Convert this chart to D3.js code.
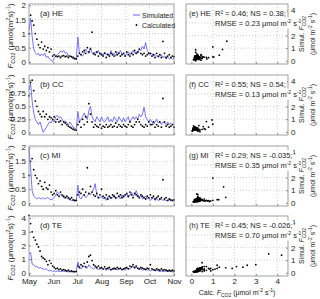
<!DOCTYPE html>
<html><head><meta charset="utf-8">
<script src="https://cdn.jsdelivr.net/npm/d3@7"></script>
<style>body{margin:0;background:#fff}svg text{font-family:"Liberation Sans",Arial,sans-serif;fill:#222}</style>
</head><body><svg id="c" width="320" height="299"></svg>
<script>
const monthLabels = ["May","Jun","Jul","Aug","Sep","Oct","Nov"];
const panelLetters = ["(a) HE","(b) CC","(c) MI","(d) TE"];
const scatterLetters = ["(e) HE","(f) CC","(g) MI","(h) TE"];
const statsLine1 = ["R\u00b2 = 0.46; NS = 0.38;","R\u00b2 = 0.55; NS = 0.54;","R\u00b2 = 0.29; NS = -0.035;","R\u00b2 = 0.45; NS = -0.026;"];
const statsRmse = ["0.23","0.13","0.35","0.70"];
const yTicksHE = [0,0.5,1,1.5,2];
const yTicksCC = [0,0.25,0.5,0.75,1];
const yTicksMI = [0,0.5,1,1.5,2];
const yTicksTE = [0,1,2,3,4];
const scatterTicks = [0,1,2,3,4];
// day index from May 1 (every 2 days)
const days = d3.range(0,185,2);
const simHE = [1.1,1.55,0.9,0.45,0.32,0.25,0.3,0.2,0.28,0.22,0.3,0.15,0.2,0.1,0.05,0.0,0.12,0.2,0.25,0.3,0.38,0.35,0.4,0.3,0.32,0.22,0.2,0.15,0.1,0.08,0.1,0.88,0.3,0.25,0.2,0.3,0.45,0.35,0.3,0.5,0.3,0.25,0.35,0.3,0.4,0.25,0.3,0.2,0.35,0.25,0.3,0.2,0.4,0.25,0.3,0.2,0.35,0.3,0.4,0.25,0.3,0.2,0.3,0.35,0.25,0.3,0.4,0.3,0.35,0.3,0.45,0.4,0.55,0.45,0.68,0.4,0.3,0.25,0.3,0.2,0.25,0.2,0.15,0.2,0.25,0.15,0.2,0.1,0.15,0.1,0.15,0.1,0.12];
const calHE = [1.0,1.65,1.45,1.3,1.0,0.8,0.6,0.5,0.7,0.45,0.55,0.4,0.5,0.35,0.45,0.2,0.25,0.2,0.18,0.2,0.15,0.2,0.22,0.18,0.2,0.15,0.2,0.18,0.15,0.12,0.1,0.2,0.3,0.25,0.35,0.4,0.3,0.5,0.35,0.45,1.05,0.3,0.25,0.35,0.2,0.3,0.25,0.2,0.3,0.15,0.25,0.2,0.3,0.25,0.2,0.35,0.25,0.3,0.2,0.25,0.3,0.2,0.35,0.25,0.2,0.3,0.25,0.4,0.3,0.35,0.45,0.3,0.25,0.3,0.2,0.25,0.3,0.3,0.2,0.25,0.15,0.3,0.2,0.25,0.15,0.72,0.3,0.15,0.2,0.25,0.15,0.2,0.18];
const simCC = [0.81,0.94,0.6,0.37,0.25,0.2,0.15,0.2,0.1,0.0,0.05,0.1,0.15,0.2,0.18,0.25,0.2,0.3,0.33,0.28,0.3,0.25,0.2,0.22,0.18,0.15,0.2,0.15,0.1,0.08,0.07,0.4,0.2,0.25,0.3,0.37,0.3,0.25,0.42,0.5,0.3,0.25,0.2,0.3,0.25,0.2,0.3,0.22,0.2,0.25,0.3,0.2,0.25,0.2,0.3,0.25,0.2,0.3,0.25,0.2,0.28,0.2,0.25,0.3,0.2,0.25,0.3,0.25,0.3,0.25,0.35,0.3,0.35,0.48,0.3,0.25,0.2,0.25,0.2,0.15,0.2,0.25,0.18,0.2,0.15,0.2,0.18,0.15,0.2,0.15,0.18,0.15,0.16];
const calCC = [0.7,0.96,1.0,0.8,0.6,0.5,0.4,0.35,0.3,0.4,0.3,0.35,0.25,0.3,0.28,0.25,0.3,0.2,0.25,0.2,0.22,0.15,0.2,0.18,0.15,0.12,0.1,0.08,0.06,0.05,0.04,0.15,0.2,0.1,0.25,0.15,0.3,0.2,0.55,0.35,0.2,0.1,0.15,0.12,0.1,0.15,0.08,0.12,0.1,0.15,0.1,0.12,0.15,0.1,0.12,0.18,0.1,0.15,0.12,0.1,0.15,0.12,0.1,0.15,0.2,0.12,0.1,0.15,0.2,0.25,0.2,0.15,0.12,0.1,0.15,0.12,0.2,0.15,0.15,0.2,0.1,0.15,0.12,0.2,0.1,0.65,0.2,0.12,0.15,0.1,0.12,0.15,0.1];
const simMI = [1.96,1.27,0.44,0.25,0.2,0.15,0.2,0.18,0.15,0.2,0.15,0.18,0.2,0.15,0.12,0.15,0.2,0.3,0.4,0.35,0.3,0.25,0.2,0.22,0.18,0.15,0.12,0.1,0.1,0.08,0.1,0.65,0.2,0.15,0.25,0.3,0.2,0.25,0.35,0.3,0.4,0.5,0.7,0.3,0.2,0.2,0.25,0.15,0.2,0.1,0.25,0.2,0.15,0.2,0.3,0.15,0.2,0.25,0.15,0.3,0.2,0.25,0.35,0.2,0.3,0.4,0.25,0.3,0.45,0.3,0.2,0.3,0.15,0.2,0.25,0.15,0.2,0.1,0.15,0.2,0.1,0.15,0.1,0.12,0.15,0.1,0.12,0.08,0.1,0.12,0.08,0.1,0.1];
const calMI = [1.0,1.5,1.6,1.2,1.0,0.9,0.7,0.8,0.6,0.5,0.75,0.55,0.5,0.65,0.4,0.3,0.35,0.45,0.3,0.25,0.4,0.3,0.25,0.2,0.25,0.2,0.15,0.2,0.12,0.1,0.1,0.3,0.4,0.35,0.5,0.3,0.4,1.27,0.35,0.6,0.4,0.3,0.25,0.35,0.2,0.3,0.5,0.25,0.2,0.3,0.15,0.25,0.2,0.3,0.25,0.2,0.35,0.25,0.3,0.2,0.25,0.3,0.35,0.25,0.4,0.3,0.2,0.35,0.3,0.25,0.2,0.3,0.25,0.2,0.15,0.25,0.2,0.3,0.2,0.25,0.15,0.2,0.25,0.15,0.2,0.84,0.15,0.2,0.1,0.15,0.12,0.1,0.12];
const simTE = [1.4,1.5,0.65,0.6,0.45,0.5,0.35,0.4,0.35,0.3,0.25,0.3,0.2,0.15,0.2,0.1,0.15,0.1,0.15,0.12,0.1,0.15,0.1,0.12,0.1,0.08,0.1,0.08,0.1,0.08,0.1,0.8,0.4,0.3,0.45,0.5,0.4,0.35,0.6,0.45,0.35,0.3,0.4,0.3,0.25,0.3,0.35,0.25,0.3,0.2,0.3,0.25,0.2,0.3,0.25,0.3,0.2,0.35,0.3,0.25,0.3,0.2,0.3,0.35,0.3,0.4,0.5,0.35,0.45,0.3,0.25,0.3,0.2,0.25,0.3,0.2,0.25,0.15,0.2,0.25,0.15,0.2,0.15,0.1,0.15,0.12,0.1,0.15,0.1,0.12,0.1,0.08,0.1];
const calTE = [4.2,3.6,3.0,2.6,2.4,2.1,1.9,1.6,1.2,1.1,1.0,0.85,0.6,0.9,0.7,0.5,0.4,0.3,0.35,0.25,0.3,0.2,0.25,0.2,0.15,0.2,0.12,0.15,0.1,0.1,0.1,0.5,0.4,0.6,0.5,0.7,0.45,0.8,1.2,1.3,0.9,0.6,0.5,0.4,0.5,0.35,0.4,0.3,0.45,0.3,0.35,0.4,0.25,0.3,0.35,0.3,0.4,0.3,0.35,0.25,0.3,0.35,0.4,0.3,0.5,0.45,0.6,0.4,0.5,0.35,0.3,0.4,0.35,0.3,0.25,0.35,0.3,0.6,0.3,0.25,0.2,0.3,0.25,0.2,0.3,0.2,0.25,0.2,0.15,0.2,0.15,0.2,0.15];

const rows = [
  {sim:simHE, cal:calHE, ticks:yTicksHE, dom:[-0.08,2.05]},
  {sim:simCC, cal:calCC, ticks:yTicksCC, dom:[-0.05,1.1]},
  {sim:simMI, cal:calMI, ticks:yTicksMI, dom:[-0.1,2.05]},
  {sim:simTE, cal:calTE, ticks:yTicksTE, dom:[-0.22,4.15]}
];
const tops = [4,75,146,216], ph = 60;
const L0 = 29, L1 = 174, R0 = 186, R1 = 288;
const blue = "#6464f5", grid = "#b0b0b0", frame = "#8a8a8a";
const fmt = d3.format("");
const svg = d3.select("#c");
const x = d3.scaleUtc().domain([new Date(Date.UTC(2014,4,1)), new Date(Date.UTC(2014,10,1))]).range([L0,L1]);
const monthDates = d3.range(7).map(i=>new Date(Date.UTC(2014,4+i,1)));
const dayDate = d=>new Date(Date.UTC(2014,4,1+d));
const xs = d3.scaleLinear().domain([-0.25,4.5]).range([R0,R1]);

function sup(t, s, size){ t.append("tspan").attr("font-size",size).attr("dy",-3).text(s); }
function bg(g, t, pad){ const b = t.node().getBBox(); g.insert("rect", () => t.node())
  .attr("x",b.x-pad).attr("y",b.y-0.5).attr("width",b.width+2*pad).attr("height",b.height+1).attr("fill","#fff"); }

rows.forEach((r,i)=>{
  const top = tops[i];
  const y = d3.scaleLinear().domain(r.dom).range([top+ph, top]);
  const ys = d3.scaleLinear().domain([-0.25,4.5]).range([top+ph, top]);
  // left panel
  const g = svg.append("g");
  g.selectAll(".gx").data(monthDates.slice(1,-1)).join("line")
    .attr("x1",d=>x(d)).attr("x2",d=>x(d)).attr("y1",top).attr("y2",top+ph)
    .attr("stroke",grid).attr("stroke-width",0.6).attr("stroke-dasharray","1,2");
  g.selectAll(".gy").data(r.ticks.slice(1)).join("line")
    .attr("x1",L0).attr("x2",L1).attr("y1",d=>y(d)).attr("y2",d=>y(d))
    .attr("stroke",grid).attr("stroke-width",0.6).attr("stroke-dasharray","1,2");
  const pts = days.map((d,k)=>({d, s:r.sim[k], c:r.cal[k]}));
  g.append("path").datum(pts).attr("fill","none").attr("stroke",blue).attr("stroke-width",0.9)
    .attr("d", d3.line().x(p=>x(dayDate(p.d))).y(p=>y(p.s)));
  g.selectAll(".dot").data(pts.filter(p=>p.c!=null)).join("circle")
    .attr("cx",p=>x(dayDate(p.d))).attr("cy",p=>y(p.c)).attr("r",0.9).attr("fill","#000");
  const ya = g.append("g").attr("transform",`translate(${L0},0)`)
    .call(d3.axisLeft(y).tickValues(r.ticks).tickSize(-2).tickPadding(3).tickFormat(fmt));
  ya.select(".domain").remove();
  ya.selectAll("line").attr("stroke",frame);
  ya.selectAll("text").attr("font-size",8).attr("fill","#222");
  const xa = g.append("g").attr("transform",`translate(0,${top+ph})`)
    .call(d3.axisBottom(x).tickValues(monthDates).tickSize(-2).tickPadding(2).tickFormat(i===3?(d,k)=>monthLabels[k]:()=>""));
  xa.select(".domain").remove();
  xa.selectAll("line").attr("stroke",frame);
  xa.selectAll("text").attr("font-size",8).attr("fill","#222");
  g.append("rect").attr("x",L0).attr("y",top).attr("width",L1-L0).attr("height",ph)
    .attr("fill","none").attr("stroke",frame).attr("stroke-width",0.8);
  const pl = g.append("text").attr("x",40).attr("y",top+12).attr("font-size",8).text(panelLetters[i]);
  bg(g, pl, 1);
  // y label
  const lab = g.append("text").attr("transform",`translate(13,${top+ph/2+2}) rotate(-90)`)
    .attr("text-anchor","middle").attr("font-size",8);
  lab.append("tspan").attr("font-style","italic").text("F");
  lab.append("tspan").attr("font-size",5.5).attr("dy",2).text("CO2");
  lab.append("tspan").attr("dy",-2).text(" (\u03bcmol(m");
  sup(lab,"2",5.5);
  lab.append("tspan").attr("dy",3).text("s)");
  sup(lab,"-1",5.5);
  lab.append("tspan").attr("dy",3).text(")");

  // right panel
  const h = svg.append("g");
  h.selectAll(".gx").data(scatterTicks.slice(1)).join("line")
    .attr("x1",d=>xs(d)).attr("x2",d=>xs(d)).attr("y1",top).attr("y2",top+ph)
    .attr("stroke",grid).attr("stroke-width",0.6).attr("stroke-dasharray","1,2");
  h.selectAll(".gy").data(scatterTicks.slice(1)).join("line")
    .attr("x1",R0).attr("x2",R1).attr("y1",d=>ys(d)).attr("y2",d=>ys(d))
    .attr("stroke",grid).attr("stroke-width",0.6).attr("stroke-dasharray","1,2");
  h.selectAll(".sd").data(pts.filter(p=>p.c!=null)).join("circle")
    .attr("cx",p=>xs(p.c)).attr("cy",p=>ys(p.s)).attr("r",0.9).attr("fill","#000");
  const ra = h.append("g").attr("transform",`translate(${R1},0)`)
    .call(d3.axisRight(ys).tickValues(scatterTicks).tickSize(-2).tickPadding(3).tickFormat(fmt));
  ra.select(".domain").remove();
  ra.selectAll("line").attr("stroke",frame);
  ra.selectAll("text").attr("font-size",8).attr("fill","#222");
  const ba = h.append("g").attr("transform",`translate(0,${top+ph})`)
    .call(d3.axisBottom(xs).tickValues(scatterTicks).tickSize(-2).tickPadding(2).tickFormat(i===3?fmt:()=>""));
  ba.select(".domain").remove();
  ba.selectAll("line").attr("stroke",frame);
  ba.selectAll("text").attr("font-size",8).attr("fill","#222");
  h.append("rect").attr("x",R0).attr("y",top).attr("width",R1-R0).attr("height",ph)
    .attr("fill","none").attr("stroke",frame).attr("stroke-width",0.8);
  const sl = h.append("text").attr("x",R0+3).attr("y",top+12).attr("font-size",7.5).text(scatterLetters[i]);
  bg(h, sl, 0.5);
  const s1 = h.append("text").attr("x",R0+29).attr("y",top+12).attr("font-size",7.5).text(statsLine1[i]);
  bg(h, s1, 1);
  const rm = h.append("text").attr("x",R0+29).attr("y",top+22).attr("font-size",7.5);
  rm.append("tspan").text("RMSE = "+statsRmse[i]+" \u03bcmol m");
  sup(rm,"-2",5);
  rm.append("tspan").attr("dy",3).text(" s");
  sup(rm,"-1",5);
  bg(h, rm, 1);
  // right y label
  const rl = h.append("text").attr("transform",`translate(304,${top+ph/2}) rotate(-90)`)
    .attr("text-anchor","middle").attr("font-size",7);
  rl.append("tspan").text("Simul. ");
  rl.append("tspan").attr("font-style","italic").text("F");
  rl.append("tspan").attr("font-size",5).attr("dy",2).text("CO2");
  const rl2 = h.append("text").attr("transform",`translate(315,${top+ph/2}) rotate(-90)`)
    .attr("text-anchor","middle").attr("font-size",7);
  rl2.append("tspan").text("(\u03bcmol m");
  sup(rl2,"-2",5);
  rl2.append("tspan").attr("dy",3).text(" s");
  sup(rl2,"-1",5);
  rl2.append("tspan").attr("dy",3).text(")");
});
// legend
const lg = svg.append("g");
lg.append("rect").attr("x",130).attr("y",9).attr("width",43).attr("height",22).attr("fill","#fff");
lg.append("line").attr("x1",133).attr("x2",140).attr("y1",15).attr("y2",15).attr("stroke",blue).attr("stroke-width",1);
lg.append("text").attr("x",142).attr("y",17.5).attr("font-size",7).text("Simulated");
lg.append("circle").attr("cx",136.5).attr("cy",25).attr("r",0.9).attr("fill","#000");
lg.append("text").attr("x",142).attr("y",27.5).attr("font-size",7).text("Calculated");
// bottom x label
const bl = svg.append("text").attr("x",237).attr("y",294.5).attr("text-anchor","middle").attr("font-size",7);
bl.append("tspan").text("Calc. ");
bl.append("tspan").attr("font-style","italic").text("F");
bl.append("tspan").attr("font-size",5).attr("dy",2).text("CO2");
bl.append("tspan").attr("dy",-2).text(" (\u03bcmol m");
sup(bl,"-2",5);
bl.append("tspan").attr("dy",3).text(" s");
sup(bl,"-1",5);
bl.append("tspan").attr("dy",3).text(")");
</script></body></html>
